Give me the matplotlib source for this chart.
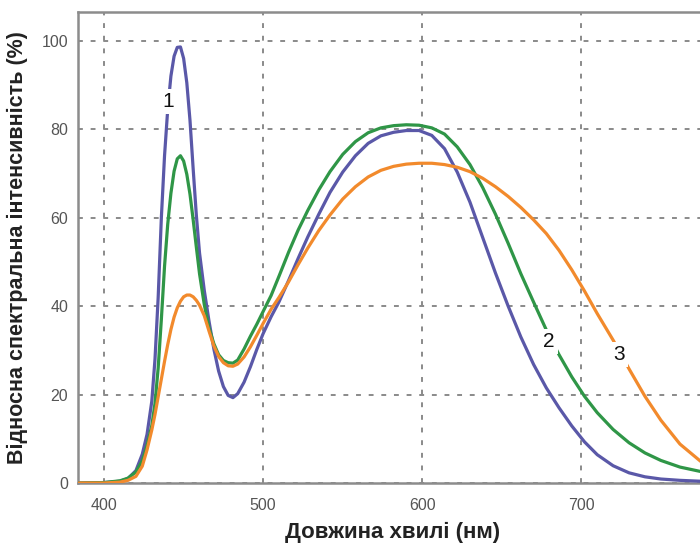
import matplotlib
matplotlib.use("Agg")
import matplotlib.pyplot as plt

wavelength = [384, 400, 410, 415, 420, 424, 427, 430, 432, 434, 436, 438, 440, 442, 444, 446, 448, 450,
              452, 454, 456, 458, 460, 463, 466, 469, 472, 475, 478, 481, 484, 488, 492, 496, 500, 505,
              510, 516, 522, 528, 535, 542, 550, 558, 566, 574, 582, 590, 598, 606, 614, 622, 630, 638,
              646, 654, 662, 670, 678, 686, 694, 702, 710, 720, 730, 740, 750, 762, 775]

led_1 = [0, 0.1, 0.4, 1.0, 2.8, 6.5, 11, 18.5, 28, 42, 60, 74, 84.5, 92, 96.5, 98.5, 98.6, 96,
         90.5, 82, 71, 60.5, 52, 43.5, 36.5, 30.3, 25.3, 21.8, 19.8, 19.3, 20.2, 22.8, 26.3, 30.2, 33.8, 37.6,
         41, 45.8, 50.8, 55.6, 60.8, 65.7, 70.3, 74, 76.8, 78.5, 79.3, 79.7, 79.7, 78.6, 75.6, 70.3, 63.5, 55.5,
         47.5, 40, 33, 26.8, 21.5, 17, 12.9, 9.3, 6.4, 3.9, 2.3, 1.4, 0.9, 0.6, 0.4]

led_2 = [0, 0.1, 0.5, 1.1, 2.5, 5, 8.5, 13, 18, 26, 37, 49, 58.5, 65.5, 70.5, 73.3, 74, 72.8,
         69.8, 65.3, 59.5, 53.3, 47.3, 40.3, 35, 31.5, 29, 27.7, 27.2, 27.1, 27.8, 30.3, 33.2, 35.9, 38.8, 42.4,
         46.8, 52.2, 57.2, 61.6, 66.3, 70.4, 74.3, 77.2, 79.2, 80.3, 80.8, 81.0, 80.9, 80.3, 78.9, 76.0, 72.0, 66.8,
         60.8, 54.2, 47.3, 40.9, 34.6, 29.0, 24.0, 19.6, 15.9, 12.1, 9.1, 6.8, 5.1, 3.6, 2.6]

led_3 = [0, 0, 0.2, 0.6, 1.5, 3.8, 7.5, 12, 15.5, 19.5, 23.5, 27.5, 31.3, 34.7, 37.5, 39.6, 41.1, 42.1,
         42.5, 42.5, 42.1, 41.3, 40.2, 37.8, 34.3, 31, 28.6, 27.2, 26.5, 26.4, 26.9, 28.5, 30.8, 33.4, 36.1, 39.3,
         42, 45.5, 49.4, 53.1, 57.1, 60.6, 64.2, 67.0, 69.2, 70.7, 71.6, 72.1, 72.3, 72.3, 72.0, 71.4, 70.4, 68.9,
         67.0, 64.8, 62.3, 59.5, 56.4, 52.6, 48.2, 43.4, 38.3, 32.3, 25.8, 19.6, 14.2, 8.8, 4.9]

curve_labels = ["1", "2", "3"]
label_x = [440.6, 679.5, 723.5]
label_y = [86.3, 32, 29]

x_ticks = [400, 500, 600, 700]
y_ticks = [0, 20, 40, 60, 80, 100]

colors = ["#5a58a8", "#2f9647", "#f28a2c"]

plt.rcParams['font.family'] = ['Liberation Sans', 'DejaVu Sans']

fig = plt.figure(figsize=(7.0, 5.44), dpi=100)
ax = fig.add_axes([78/700, 61/544, 629/700, 471/544])

for series, c in zip([led_1, led_2, led_3], colors):
    ax.plot(wavelength, series, color=c, lw=2.3, solid_capstyle='round', solid_joinstyle='round', zorder=3)

for t, lx, ly in zip(curve_labels, label_x, label_y):
    ax.text(lx, ly, t, fontsize=15, color='#111111', ha='center', va='center', zorder=4,
            bbox=dict(boxstyle='square,pad=0.15', fc='white', ec='none'))

ax.set_xlim(383.6, 779)
ax.set_ylim(0, 106.5)
ax.set_xticks(x_ticks)
ax.set_yticks(y_ticks)
ax.grid(True, color='#8a8a8a', lw=1.4, linestyle=(0, (2.5, 4)))
ax.set_axisbelow(True)

for side in ['left', 'bottom', 'top']:
    ax.spines[side].set_color('#8c8c8c')
    ax.spines[side].set_linewidth(1.8)
ax.spines['right'].set_visible(False)

ax.tick_params(axis='both', length=0, labelsize=11.5, labelcolor='#555555')
ax.tick_params(axis='x', pad=11)
ax.tick_params(axis='y', pad=7)

ax.set_xlabel('Довжина хвилі (нм)', fontsize=16, fontweight='bold', color='#222222', labelpad=6)
ax.set_ylabel('Відносна спектральна інтенсивність (%)', fontsize=15.5, fontweight='bold', color='#222222', labelpad=10)

fig.savefig('out.png', dpi=100)
